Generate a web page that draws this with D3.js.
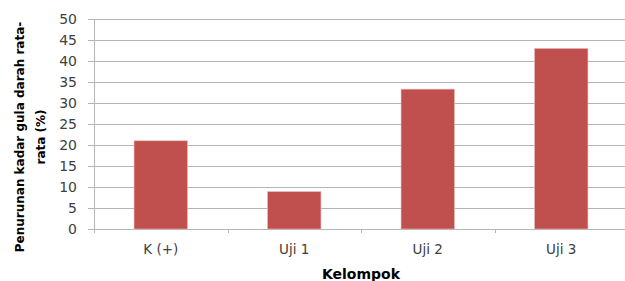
<!DOCTYPE html>
<html><head><meta charset="utf-8">
<script src="https://cdn.jsdelivr.net/npm/d3@7"></script>
<style>body{margin:0;background:#fff}svg{display:block}</style>
</head><body>
<svg id="c" width="625" height="281"></svg>
<script>
const categories = ["K (+)", "Uji 1", "Uji 2", "Uji 3"];
const values = [21, 8.9, 33.3, 43];
const yTicks = [0, 5, 10, 15, 20, 25, 30, 35, 40, 45, 50];
const xTitle = "Kelompok";
const yTitleLines = ["Penurunan kadar gula darah rata-", "rata (%)"];

(function () {
const svg = d3.select("#c");
const mLeft = 94, mRight = 628, mTop = 19, mBottom = 229;
const font = "Verdana, 'DejaVu Sans', sans-serif";

const x = d3.scaleBand().domain(categories).range([mLeft, mRight]).paddingInner(0.6).paddingOuter(0.3);
const y = d3.scaleLinear().domain([0, 50]).range([mBottom, mTop]);

// gridlines
svg.append("g").selectAll("line").data(yTicks).join("line")
  .attr("x1", mLeft - 6).attr("x2", mRight)
  .attr("y1", d => y(d) + 0.5).attr("y2", d => y(d) + 0.5)
  .attr("stroke", "#b5b5b5").attr("stroke-width", 1);

// y axis line
svg.append("line").attr("x1", mLeft + 0.5).attr("x2", mLeft + 0.5)
  .attr("y1", mTop).attr("y2", mBottom + 4).attr("stroke", "#b5b5b5");

// x axis ticks at band boundaries
const step = x.step();
const bounds = d3.range(categories.length + 1).map(i => mLeft + i * step);
svg.append("g").selectAll("line").data(bounds).join("line")
  .attr("x1", d => Math.round(d) + 0.5).attr("x2", d => Math.round(d) + 0.5)
  .attr("y1", mBottom).attr("y2", mBottom + 4).attr("stroke", "#b5b5b5");

// bars
svg.append("g").selectAll("rect").data(values).join("rect")
  .attr("x", (d, i) => x(categories[i]))
  .attr("width", x.bandwidth())
  .attr("y", d => y(d))
  .attr("height", d => y(0) - y(d))
  .attr("fill", "#c0504d")
  .attr("stroke", "#e8b8b6").attr("stroke-width", 0.6);

// y tick labels
svg.append("g").selectAll("text").data(yTicks).join("text")
  .attr("x", 77).attr("y", d => y(d)).attr("dy", "0.36em")
  .attr("text-anchor", "end").attr("font-family", font).attr("font-size", 14)
  .attr("fill", "#404040").text(d => d);

// x tick labels
svg.append("g").selectAll("text").data(categories).join("text")
  .attr("x", d => x(d) + x.bandwidth() / 2).attr("y", 254)
  .attr("text-anchor", "middle").attr("font-family", font).attr("font-size", 13.5)
  .attr("fill", "#404040").text(d => d);

// x title
svg.append("text").attr("x", 361).attr("y", 279).attr("text-anchor", "middle")
  .attr("font-family", font).attr("font-size", 14).attr("font-weight", "bold")
  .attr("fill", "#000").text(xTitle);

// y title
const yt = svg.append("text").attr("transform", "translate(24,137) rotate(-90)")
  .attr("text-anchor", "middle").attr("font-family", font).attr("font-size", 12)
  .attr("font-weight", "bold").attr("fill", "#000");
yTitleLines.forEach((t, i) => yt.append("tspan").attr("x", 0).attr("dy", i === 0 ? 0 : 20.5).text(t));
})();
</script>
</body></html>
